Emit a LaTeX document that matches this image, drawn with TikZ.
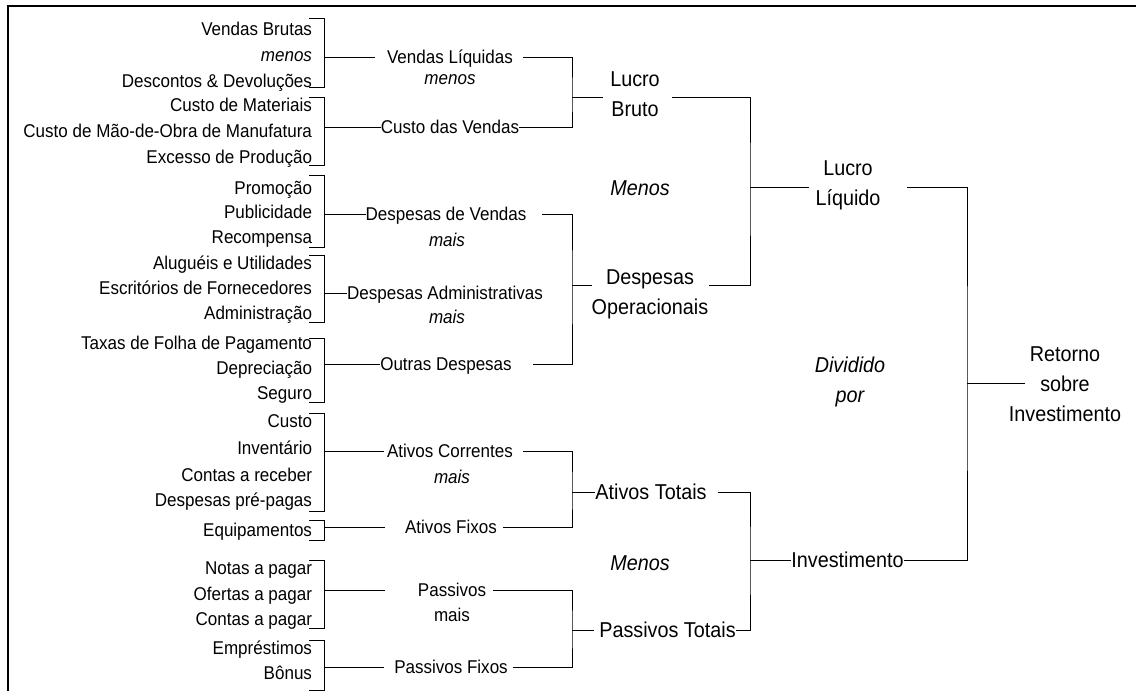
\documentclass[tikz,border=0pt]{standalone}
\usepackage{fontspec}
\setmainfont{Liberation Sans}[FakeStretch=0.92]
\usetikzlibrary{calc}
% bracket joining a group of items; #4 names its mid point
\newcommand\bracketgroup[4]{%
  \draw[link] (309,#1) -- (324,#1) -- (324,#2) -- (309,#2);
  \coordinate (#4) at (324,#3);}
\begin{document}
\begin{tikzpicture}[x=1pt,y=-1pt,
  every node/.style={inner sep=0pt, outer sep=0pt},
  small/.style={font=\fontsize{18.5}{25.5}\selectfont, text height=13.2pt, text depth=0pt},
  item/.style={small, anchor=east},
  mid/.style={small, anchor=center},
  bigone/.style={font=\fontsize{21.5}{30}\selectfont, text height=15.4pt, text depth=0pt},
  big/.style={font=\fontsize{21.5}{30}\selectfont, align=center},
  link/.style={line width=1pt},
  frame/.style={line width=2pt}]
\useasboundingbox (0,0) rectangle (1136,691);
\draw[frame] (1136,6) -- (8,6) -- (8,691);

% ---- detail items (right aligned)
\node[item] (i1a) at (312,29) {Vendas Brutas};
\node[item] (i1b) at (312,55) {\itshape menos};
\node[item] (i1c) at (312,81) {Descontos \& Devoluções};
\node[item] (i2a) at (312,105) {Custo de Materiais};
\node[item] (i2b) at (312,131) {Custo de Mão-de-Obra de Manufatura};
\node[item] (i2c) at (312,157) {Excesso de Produção};
\node[item] (i3a) at (312,188) {Promoção};
\node[item] (i3b) at (312,212) {Publicidade};
\node[item] (i3c) at (312,237) {Recompensa};
\node[item] (i4a) at (312,263) {Aluguéis e Utilidades};
\node[item] (i4b) at (312,288) {Escritórios de Fornecedores};
\node[item] (i4c) at (312,313) {Administração};
\node[item] (i5a) at (312,343) {Taxas de Folha de Pagamento};
\node[item] (i5b) at (312,368) {Depreciação};
\node[item] (i5c) at (312,393) {Seguro};
\node[item] (i6a) at (312,421) {Custo};
\node[item] (i6b) at (312,448) {Inventário};
\node[item] (i6c) at (312,475) {Contas a receber};
\node[item] (i6d) at (312,500) {Despesas pré-pagas};
\node[item] (i7a) at (312,530) {Equipamentos};
\node[item] (i8a) at (312,568) {Notas a pagar};
\node[item] (i8b) at (312,594) {Ofertas a pagar};
\node[item] (i8c) at (312,619) {Contas a pagar};
\node[item] (i9a) at (312,648) {Empréstimos};
\node[item] (i9b) at (312,673) {Bônus};

\bracketgroup{18}{87}{57}{g1}
\bracketgroup{97}{165}{127}{g2}
\bracketgroup{175}{247}{214}{g3}
\bracketgroup{255}{322}{293}{g4}
\bracketgroup{338}{402}{364}{g5}
\bracketgroup{413}{511}{451}{g6}
\bracketgroup{520}{540}{527}{g7}
\bracketgroup{560}{628}{590}{g8}
\bracketgroup{640}{690}{667}{g9}

% ---- second level
\node[mid] (vl)  at (450,57)  {Vendas Líquidas};
\node[mid] (vlm) at (450,78)  {\itshape menos};
\node[mid] (cv)  at (450,127) {Custo das Vendas};
\node[mid] (dv)  at (446,214) {Despesas de Vendas};
\node[mid] (dvm) at (447,240) {\itshape mais};
\node[mid] (da)  at (445,293) {Despesas Administrativas};
\node[mid] (dam) at (447,317) {\itshape mais};
\node[mid] (od)  at (446,364) {Outras Despesas};
\node[mid] (ac)  at (450,451) {Ativos Correntes};
\node[mid] (acm) at (452,477) {\itshape mais};
\node[mid] (af)  at (451,527) {Ativos Fixos};
\node[mid] (pa)  at (452,590) {Passivos};
\node[mid] (pam) at (452,615) {mais};
\node[mid] (pf)  at (451,667) {Passivos Fixos};

% ---- third level and beyond
\node[big] (lb)   at (635,94.5)  {Lucro\\Bruto};
\node[big] (men1) at (640,188)   {\itshape Menos};
\node[big] (dop)  at (650,294)   {Despesas\\Operacionais};
\node[bigone] (atot) at (651,492)   {Ativos Totais};
\node[bigone] (men2) at (640,563)   {\itshape Menos};
\node[bigone] (ptot) at (667.5,630) {Passivos Totais};
\node[big] (ll)   at (848,185)   {Lucro\\Líquido};
\node[big] (dp)   at (850,382)   {\itshape Dividido\\\itshape por};
\node[bigone] (inv)  at (847.5,560) {Investimento};
\node[big] (rsi)  at (1065,384.5) {Retorno\\sobre\\Investimento};

% ---- junctions
\coordinate (jlb)  at (572,97);
\coordinate (jdo)  at (572,285);
\coordinate (jat)  at (572,492);
\coordinate (jpt)  at (572,630);
\coordinate (jll)  at (750,187);
\coordinate (jinv) at (750,560);
\coordinate (jroi) at (967,383);

% ---- connectors
\draw[link] (g1) -- ($(vl.west)+(-12,0)$);
\draw[link] (g2) -- (cv.west);
\draw[link] ($(vl.east)+(10,0)$) -| (jlb) |- (cv.east);
\draw[link] (jlb) -- ($(jlb -| lb.west)+(-7,0)$);

\draw[link] (g3) -- (dv.west);
\draw[link] (g4) -- (da.west);
\draw[link] (g5) -- (od.west);
\draw[link] ($(dv.east)+(16,0)$) -| (jdo) |- ($(od.east)+(21,0)$);
\draw[link] (jdo) -- (jdo -| dop.west);

\draw[link] ($(jlb -| lb.east)+(12,0)$) -| (jll) |- ($(jdo -| dop.east)+(1,0)$);
\draw[link] (jll) -- ($(jll -| ll.west)+(-7,0)$);

\draw[link] (g6) -- ($(ac.west)+(-3,0)$);
\draw[link] (g7) -- ($(af.west)+(-20,0)$);
\draw[link] ($(ac.east)+(10,0)$) -| (jat) |- ($(af.east)+(6,0)$);
\draw[link] (jat) -- (atot.west);

\draw[link] (g8) -- ($(pa.west)+(-33,0)$);
\draw[link] (g9) -- ($(pf.west)+(-10,0)$);
\draw[link] ($(pa.east)+(7,0)$) -| (jpt) |- ($(pf.east)+(5,0)$);
\draw[link] (jpt) -- ($(ptot.west)+(-5,0)$);

\draw[link] ($(atot.east)+(11,0)$) -| (jinv) |- (ptot.east);
\draw[link] (jinv) -- (inv.west);

\draw[link] ($(jll -| ll.east)+(27,0)$) -| (jroi) |- (inv.east);
\draw[link] (jroi) -- ($(jroi -| rsi.center)+(-40,0)$);
\end{tikzpicture}
\end{document}
